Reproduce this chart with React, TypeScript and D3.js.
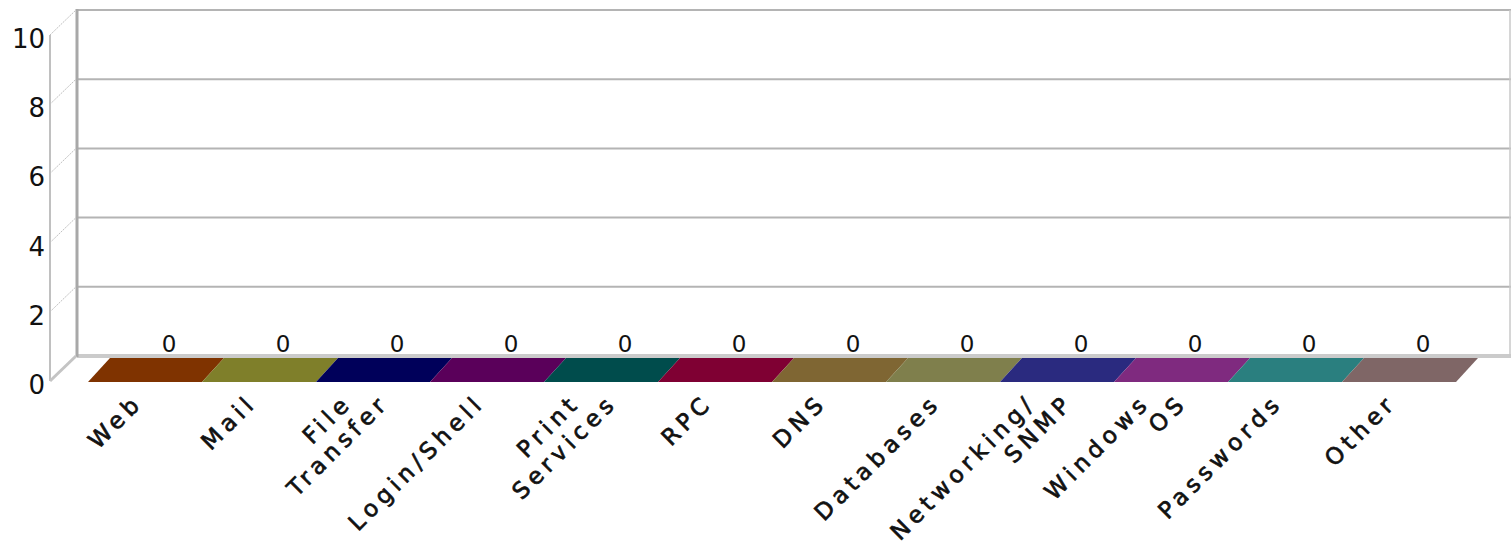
import React from "react";
import * as d3 from "d3";

const categories = [
  "Web",
  "Mail",
  "File\nTransfer",
  "Login/Shell",
  "Print\nServices",
  "RPC",
  "DNS",
  "Databases",
  "Networking/\nSNMP",
  "Windows\nOS",
  "Passwords",
  "Other",
];
const values = [0, 0, 0, 0, 0, 0, 0, 0, 0, 0, 0, 0];
const colors = [
  "#7f3300",
  "#7f7f2a",
  "#00005a",
  "#5a005a",
  "#004c4c",
  "#7f0033",
  "#7f6633",
  "#7f7f4c",
  "#2a2a7f",
  "#7f2a7f",
  "#2a7f7f",
  "#7f6666",
];
const yTicks = [0, 2, 4, 6, 8, 10];

const W = 1511;
const H = 548;
const FONT = "'DejaVu Sans', Verdana, sans-serif";

export default function App() {
  const wallLeft = 77;
  const wallRight = 1511;
  const y = d3.scaleLinear().domain([0, 10]).range([356, 10]);
  const axisDx = -27;
  const axisDy = 25;
  const x = d3.scaleBand().domain(categories).range([88, 1456]).padding(0);
  const bw = x.bandwidth();
  const barFront = 26; // front of bars relative to the wall floor
  const depthX = 22;
  const depthY = -24;
  const yF = (v: number) => y(v) + barFront;

  return (
    <svg
      width={W}
      height={H}
      style={{ position: "absolute", left: 0, top: 0, display: "block", background: "#fff" }}
      fontFamily={FONT}
    >
      {/* back wall */}
      <rect x={wallLeft} y={y(10)} width={wallRight - wallLeft} height={y(0) - y(10)} fill="#fff" />
      {yTicks.filter((t) => t > 0).map((t) => (
        <line key={"g" + t} x1={wallLeft} x2={wallRight} y1={y(t)} y2={y(t)} stroke="#b4b4b4" strokeWidth={2} />
      ))}
      <line x1={wallLeft} x2={wallRight} y1={y(0)} y2={y(0)} stroke="#cbcbcb" strokeWidth={4} />
      <line x1={wallRight - 1} x2={wallRight - 1} y1={y(10)} y2={y(0)} stroke="#c8c8c8" strokeWidth={1.5} />
      <line x1={wallLeft} x2={wallLeft} y1={y(10) - 1} y2={y(0) + 1} stroke="#a8a8a8" strokeWidth={3} />

      {/* front axis */}
      <line x1={wallLeft + axisDx} x2={wallLeft + axisDx} y1={y(10) + axisDy} y2={y(0) + axisDy} stroke="#c0c0c0" strokeWidth={2} />
      {yTicks.map((t) => (
        <line
          key={"d" + t}
          x1={wallLeft + axisDx}
          y1={y(t) + axisDy}
          x2={wallLeft - 1}
          y2={y(t)}
          stroke={t === 0 ? "#c4c4c4" : "#c0c0c0"}
          strokeWidth={t === 0 ? 3 : 1}
          strokeDasharray={t === 0 ? undefined : "2,1"}
        />
      ))}
      {yTicks.map((t) => (
        <text
          key={"t" + t}
          x={45}
          y={y(t) + axisDy + 13}
          textAnchor="end"
          fontSize={26}
          fill="#111"
        >
          {t}
        </text>
      ))}

      {/* bars */}
      {categories.map((c, i) => {
        const x0 = x(c)!;
        const x1 = x0 + bw;
        const top = yF(values[i]);
        const bot = yF(0);
        const topFace = `M${x0},${top}L${x1},${top}L${x1 + depthX},${top + depthY}L${x0 + depthX},${top + depthY}Z`;
        const sideFace = `M${x1},${top}L${x1 + depthX},${top + depthY}L${x1 + depthX},${bot + depthY}L${x1},${bot}Z`;
        return (
          <g key={"b" + i}>
            <rect x={x0} y={top} width={bw} height={bot - top} fill={colors[i]} />
            <path d={sideFace} fill={colors[i]} />
            <path d={topFace} fill={colors[i]} />
          </g>
        );
      })}

      {/* value labels */}
      {categories.map((c, i) => (
        <text
          key={"v" + i}
          x={x(c)! + bw / 2 + 24}
          y={yF(values[i]) + depthY - 6}
          textAnchor="middle"
          fontSize={23}
          fill="#111"
        >
          {values[i]}
        </text>
      ))}

      {/* category labels */}
      {categories.map((c, i) => {
        const lines = c.split("\n");
        const cx = x(c)! + bw / 2;
        return (
          <g key={"c" + i}>
            {lines.map((ln, j) => {
              const ax = cx - 1 + (j - (lines.length - 1) / 2) * 37;
              const ay = 404;
              return (
                <text
                  key={j}
                  transform={`translate(${ax},${ay}) rotate(-45)`}
                  textAnchor="end"
                  fontSize={23}
                  letterSpacing={5}
                  fill="#111"
                  stroke="#111"
                  strokeWidth={0.7}
                >
                  {ln}
                </text>
              );
            })}
          </g>
        );
      })}
    </svg>
  );
}
